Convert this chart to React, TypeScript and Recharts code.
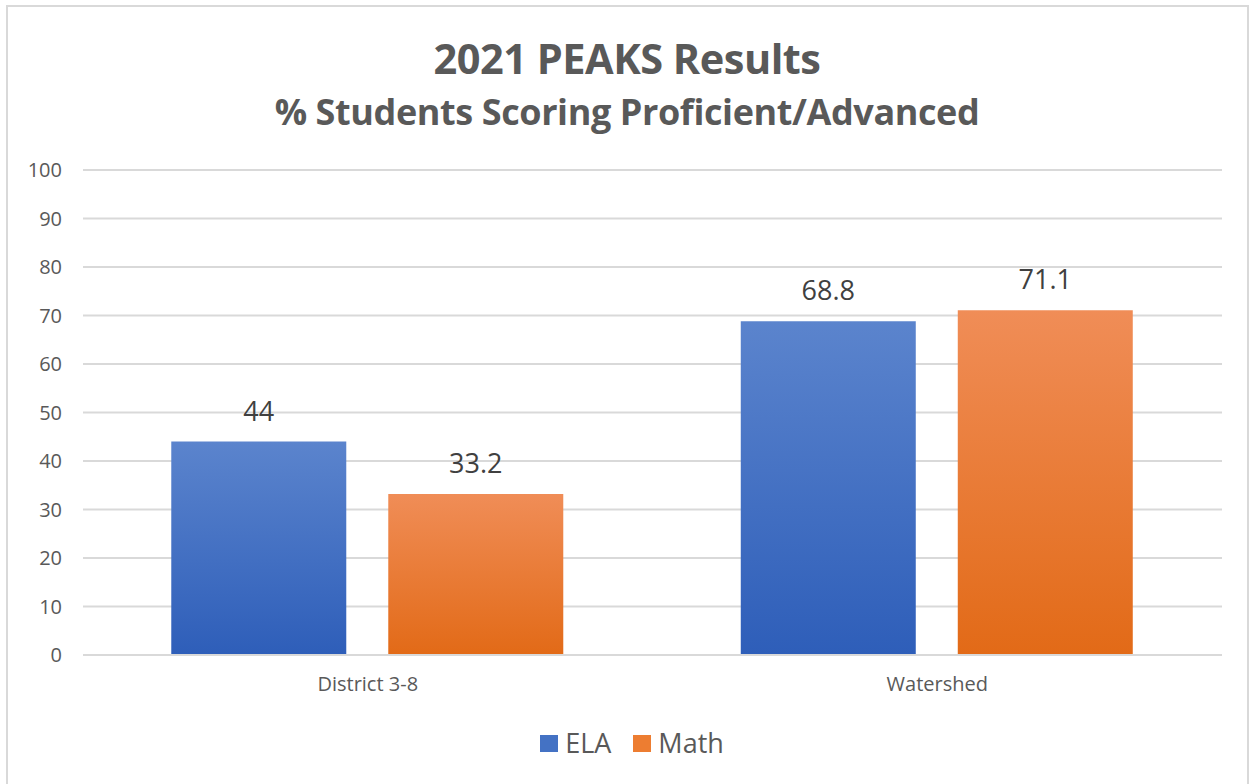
import React from "react";
import { BarChart, Bar, XAxis, YAxis, CartesianGrid, Legend, LabelList } from "recharts";

const categories = ["District 3-8", "Watershed"];
const elaValues = [44, 68.8];
const mathValues = [33.2, 71.1];
const yTicks = [0, 10, 20, 30, 40, 50, 60, 70, 80, 90, 100];

const data = categories.map((name, i) => ({ name, ELA: elaValues[i], Math: mathValues[i] }));

const FONT = "'Open Sans', 'Liberation Sans', sans-serif";
const TEXT = "#595959";

const renderLegend = (props: any) => {
  const { payload } = props;
  return (
    <div
      style={{
        height: 79,
        display: "flex",
        justifyContent: "center",
        alignItems: "flex-start",
        paddingTop: 23,
        paddingLeft: 10,
        boxSizing: "border-box",
        fontFamily: FONT,
      }}
    >
      {(payload || []).map((p: any, i: number) => (
        <div key={i} style={{ display: "flex", alignItems: "center", marginRight: i === 0 ? 22 : 0 }}>
          <div
            style={{
              width: 18,
              height: 17,
              background: p.dataKey === "ELA" ? "#4472c4" : "#ed7d31",
              marginRight: 7,
            }}
          />
          <span style={{ fontSize: 27, color: TEXT, lineHeight: "30px" }}>{p.value}</span>
        </div>
      ))}
    </div>
  );
};

export default function App() {
  return (
    <div
      style={{
        position: "absolute",
        left: 0,
        top: 0,
        width: 1254,
        height: 784,
        background: "#ffffff",
        overflow: "hidden",
        fontFamily: FONT,
      }}
    >
      <div
        style={{
          position: "absolute",
          left: 6,
          top: 5,
          width: 1243,
          height: 800,
          border: "2px solid #d9d9d9",
          boxSizing: "border-box",
        }}
      />
      <div
        style={{
          position: "absolute",
          left: 0,
          width: 1254,
          top: 33,
          textAlign: "center",
          fontSize: 41.5,
          fontWeight: 700,
          color: TEXT,
          lineHeight: "50px",
          letterSpacing: -0.5,
        }}
      >
        2021 PEAKS Results
      </div>
      <div
        style={{
          position: "absolute",
          left: 0,
          width: 1254,
          top: 90,
          textAlign: "center",
          fontSize: 36,
          fontWeight: 700,
          color: TEXT,
          lineHeight: "44px",
          letterSpacing: -0.4,
        }}
      >
        % Students Scoring Proficient/Advanced
      </div>
      <div style={{ position: "absolute", left: 0, top: 0 }}>
        <BarChart
          width={1254}
          height={784}
          data={data}
          margin={{ top: 170, right: 32, bottom: 0, left: 0 }}
          barCategoryGap="15.5%"
          barGap={42}
        >
          <defs>
            <linearGradient id="gradELA" x1="0" y1="0" x2="0" y2="1">
              <stop offset="0%" stopColor="#5b84cd" />
              <stop offset="100%" stopColor="#2e5eb9" />
            </linearGradient>
            <linearGradient id="gradMath" x1="0" y1="0" x2="0" y2="1">
              <stop offset="0%" stopColor="#f08d57" />
              <stop offset="100%" stopColor="#e26a17" />
            </linearGradient>
          </defs>
          <CartesianGrid vertical={false} stroke="#d9d9d9" strokeWidth={2} />
          <XAxis
            dataKey="name"
            axisLine={{ stroke: "#d9d9d9", strokeWidth: 2 }}
            tickLine={false}
            tickSize={0}
            tickMargin={22}
            height={50}
            tick={{ fill: TEXT, fontSize: 20, fontFamily: FONT }}
          />
          <YAxis
            domain={[0, 100]}
            ticks={yTicks}
            interval={0}
            axisLine={false}
            tickLine={false}
            tickSize={0}
            tickMargin={21}
            width={83}
            tick={{ fill: TEXT, fontSize: 20, fontFamily: FONT }}
          />
          <Legend verticalAlign="bottom" content={renderLegend} wrapperStyle={{ left: 0, width: 1254 }} />
          <Bar dataKey="ELA" fill="url(#gradELA)" isAnimationActive={false}>
            <LabelList dataKey="ELA" position="top" offset={21} fill="#404040" fontSize={27} fontFamily={FONT} />
          </Bar>
          <Bar dataKey="Math" fill="url(#gradMath)" isAnimationActive={false}>
            <LabelList dataKey="Math" position="top" offset={21} fill="#404040" fontSize={27} fontFamily={FONT} />
          </Bar>
        </BarChart>
      </div>
    </div>
  );
}
